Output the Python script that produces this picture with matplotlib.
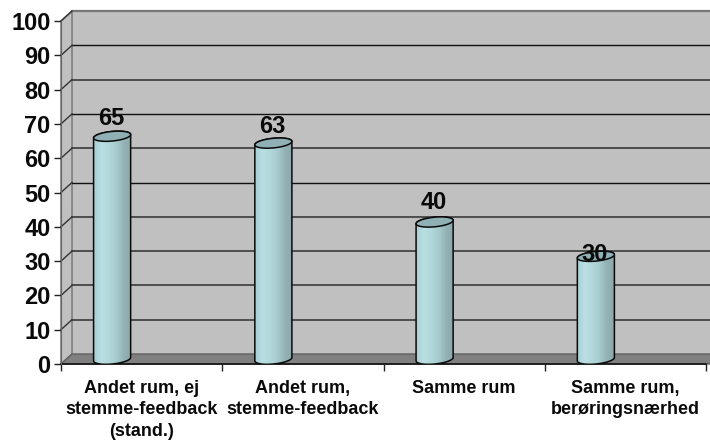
import numpy as np
import matplotlib
matplotlib.use('Agg')
import matplotlib.pyplot as plt
from matplotlib.colors import LinearSegmentedColormap
from matplotlib.patches import Polygon

plt.rcParams['font.family'] = ['Liberation Sans', 'DejaVu Sans']

categories = ['Andet rum, ej\nstemme-feedback\n(stand.)', 'Andet rum,\nstemme-feedback',
              'Samme rum', 'Samme rum,\nberøringsnærhed']
values = [65, 63, 40, 30]
label_y = [71.7, 69.3, 47.0, 31.9]
y_ticks = list(range(0, 101, 10))

W, H = 710, 442
fig = plt.figure(figsize=(W / 100, H / 100), dpi=100)
ax = fig.add_axes([61 / W, 1 - 364 / H, (706 - 61) / W, (364 - 21) / H])
ax.patch.set_visible(False)

# depth of the fake 3d box, in data units
dx = 11 / 161
dy = 10 / 3.43
far = len(values) + 0.1

wall = Polygon([(dx, dy), (far, dy), (far, 100 + dy), (dx, 100 + dy)], closed=True,
               fc='#c0c0c0', ec='none', clip_on=False, zorder=0)
side = Polygon([(0, 0), (dx, dy), (dx, 100 + dy), (0, 100)], closed=True,
               fc='#c0c0c0', ec='#808080', lw=1.2, clip_on=False, zorder=0.5)
floor = Polygon([(0, 0), (dx, dy), (far, dy), (far, 0)], closed=True,
                fc='#808080', ec='#606060', lw=1, clip_on=False, zorder=0.6)
ax.add_patch(wall)
ax.add_patch(side)
ax.add_patch(floor)

for v in y_ticks[1:]:
    col, lw = '#3a3a3a', 1.2
    if v == 90 or v == 70 or v == 50:
        col, lw = '#111111', 1.0
    if v == 100:
        col, lw = '#777777', 1.6
    ax.plot([dx, far], [v + dy, v + dy], color=col, lw=lw, clip_on=False, zorder=1)
    ax.plot([0, dx], [v, v + dy], color='#333333', lw=1, clip_on=False, zorder=1)

cmap = LinearSegmentedColormap.from_list('cyl', ['#a8d0d4', '#b9dfe3', '#b2d8dc', '#a6cacd', '#94b2b5', '#8ba6a9'])
grad = np.linspace(0, 1, 64).reshape(1, -1)

half_w = 18.5 / 161
ell_h = 1.4
tilt = 0.5
base = 1.4
t = np.linspace(0, 2 * np.pi, 73)


def ell(cx, cy, a):
    return cx + half_w * np.cos(a), cy + ell_h * np.sin(a) + tilt * np.cos(a)


for i, v in enumerate(values):
    cx = i + 0.317
    top = v + base
    # body: lower half of the base ellipse, then back along the top edge
    xb, yb = ell(cx, base, np.linspace(np.pi, 2 * np.pi, 37))
    xt, yt = ell(cx, top, np.linspace(0, np.pi, 37))
    verts = np.column_stack([np.r_[xb, xt], np.r_[yb, yt]])
    im = ax.imshow(grad, cmap=cmap, aspect='auto', zorder=2.5,
                   extent=[cx - half_w, cx + half_w, 0, top + 2])
    im.set_clip_path(Polygon(verts, closed=True, transform=ax.transData))
    ax.add_patch(Polygon(verts, closed=True, fc='none', ec='#0a0a0a', lw=1.1, zorder=3))
    xe, ye = ell(cx, top, t)
    ax.add_patch(Polygon(np.column_stack([xe, ye]), closed=True, fc='#8fb0b5', ec='#0a0a0a', lw=1.1, zorder=3.2))
    ax.text(cx - 0.005, label_y[i], str(v), ha='center', va='center', fontsize=17, fontweight='bold',
            color='#0a0a0a', zorder=5)

ax.set_xlim(0, len(values))
ax.set_ylim(0, 100)

ax.set_yticks(y_ticks)
ax.set_yticklabels([str(v) for v in y_ticks], fontsize=17, fontweight='bold', color='#0a0a0a')
ax.set_xticks(range(len(values) + 1))
ax.set_xticklabels([])
for i, c in enumerate(categories):
    ax.text(i + 0.5, -4.6, c, ha='center', va='top', fontsize=13, fontweight='bold',
            color='#0a0a0a', linespacing=1.36)
ax.tick_params(axis='both', length=5, width=1, color='#222222', pad=2.5)
for s in ['top', 'right']:
    ax.spines[s].set_visible(False)
ax.spines['left'].set_color('#666666')
ax.spines['bottom'].set_color('#111111')
ax.spines['bottom'].set_linewidth(1.2)
ax.spines['bottom'].set_zorder(2)

fig.savefig('out.png', dpi=100)
